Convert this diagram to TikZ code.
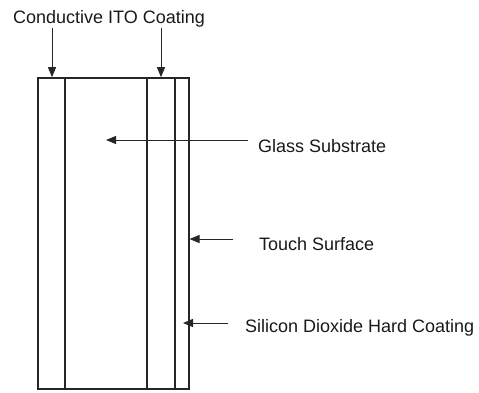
\documentclass[tikz,border=0pt]{standalone}
\usepackage{fontspec}
\setmainfont{Liberation Sans}
\usetikzlibrary{arrows.meta}
\begin{document}
\begin{tikzpicture}[x=1pt,y=-1pt,
  layer/.style={draw=black!85, line width=1.6pt, inner sep=0pt, minimum height=311pt, anchor=center},
  lbl/.style={anchor=base west, inner sep=0pt, font=\fontsize{18}{21}\selectfont, text=black!90},
  arr/.style={draw=black!85, line width=1pt, -{Triangle[length=10pt,width=8pt]}}]
\useasboundingbox (0,0) rectangle (479,392);
% layers
\node[layer, minimum width=27pt] (L1) at (51.5,233.5) {};
\node[layer, minimum width=82pt] (L2) at (106,233.5) {};
\node[layer, minimum width=28pt] (L3) at (161,233.5) {};
\node[layer, minimum width=14pt] (L4) at (182,233.5) {};
% labels
\node[lbl] (ito) at (13,23.5) {Conductive ITO Coating};
\node[lbl] (glass) at (258,152) {Glass Substrate};
\node[lbl] (touch) at (259,250) {Touch Surface};
\node[lbl] (sio) at (245,332) {Silicon Dioxide Hard Coating};
% arrow start points
\coordinate (s1) at (52,28);
\coordinate (s2) at (161,28);
\coordinate (s3) at (248,140);
\coordinate (s4) at (233,239);
\coordinate (s5) at (228,323);
\coordinate (t3) at (106,140);
\coordinate (t4) at (189.5,239);
\coordinate (t5) at (183,323);
% arrows
\draw[arr] (s1) -- (s1 |- L1.north);
\draw[arr] (s2) -- (s2 |- L3.north);
\draw[arr] (s3) -- (t3);
\draw[arr] (s4) -- (t4);
\draw[arr] (s5) -- (t5);
\end{tikzpicture}
\end{document}
